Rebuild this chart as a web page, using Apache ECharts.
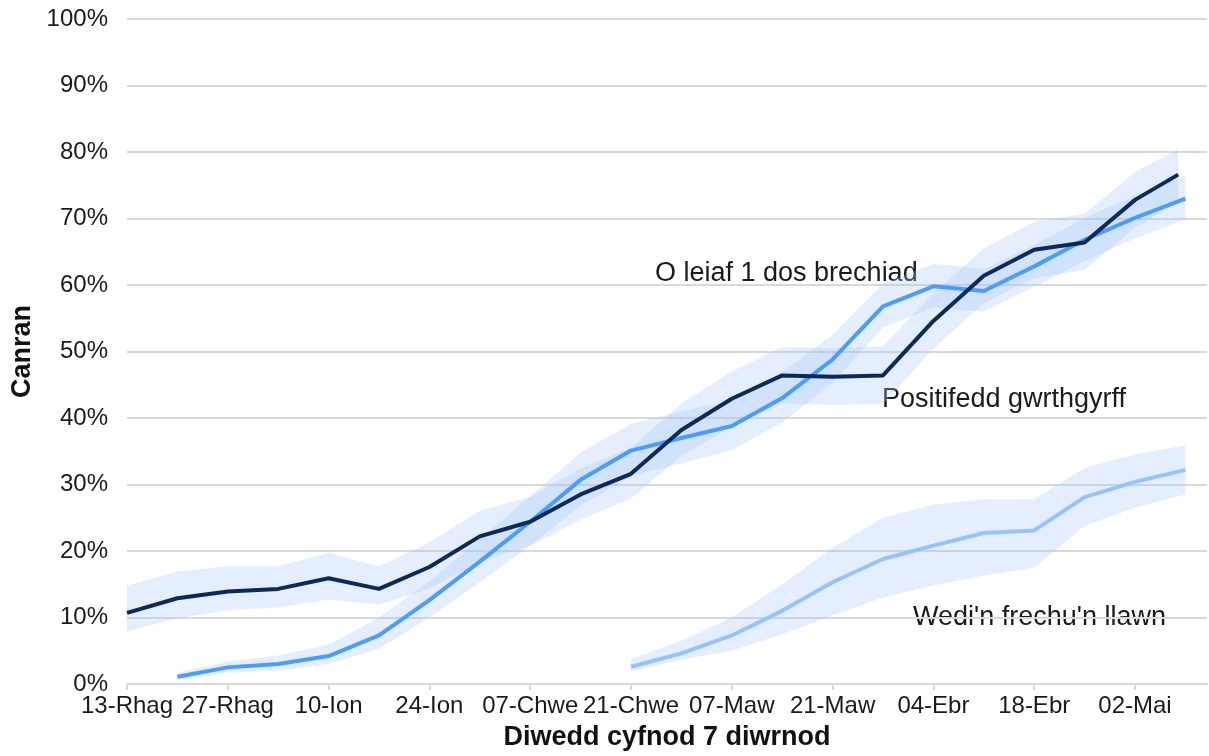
<!DOCTYPE html>
<html>
<head>
<meta charset="utf-8">
<script src="https://cdn.jsdelivr.net/npm/echarts@6/dist/echarts.min.js"></script>
<style>
html,body{margin:0;padding:0;background:#fff;}
#chart{width:1209px;height:756px;}
</style>
</head>
<body>
<div id="chart"></div>
<script>
// x positions are days since 13-Rhag
const tickDays = [0, 14, 28, 42, 56, 70, 84, 98, 112, 126, 140];
const tickLabels = ['13-Rhag', '27-Rhag', '10-Ion', '24-Ion', '07-Chwe', '21-Chwe', '07-Maw', '21-Maw', '04-Ebr', '18-Ebr', '02-Mai'];

// Positifedd gwrthgyrff (antibody positivity)
const antibodyDays  = [0, 7, 14, 21, 28, 35, 42, 49, 56, 63, 70, 77, 84, 91, 98, 105, 112, 119, 126, 133, 140, 146];
const antibodyVals  = [10.7, 12.9, 13.9, 14.3, 15.9, 14.3, 17.6, 22.2, 24.4, 28.5, 31.6, 38.2, 42.9, 46.4, 46.2, 46.4, 54.6, 61.4, 65.3, 66.4, 72.8, 76.6];
const antibodyLow   = [7.9, 9.9, 11.1, 11.5, 12.7, 11.9, 14.3, 18.5, 20.8, 24.7, 27.9, 34.3, 38.8, 42.2, 42.0, 42.1, 50.4, 57.3, 61.0, 62.3, 68.6, 72.5];
const antibodyHigh  = [14.8, 16.9, 17.7, 17.7, 19.7, 17.7, 21.3, 26.0, 28.2, 32.4, 35.5, 42.2, 47.0, 50.7, 50.5, 50.8, 58.8, 65.5, 69.5, 70.7, 77.0, 80.5];

// O leiaf 1 dos brechiad (at least one dose)
const firstDoseDays = [7, 14, 21, 28, 35, 42, 49, 56, 63, 70, 77, 84, 91, 98, 105, 112, 119, 126, 133, 140, 147];
const firstDoseVals = [1.1, 2.5, 3.0, 4.2, 7.3, 12.6, 18.4, 24.4, 30.7, 35.1, 37.0, 38.8, 43.0, 48.8, 56.8, 59.8, 59.1, 62.8, 66.8, 70.1, 73.0];
const firstDoseLow  = [0.6, 1.7, 2.0, 3.0, 5.3, 10.0, 15.3, 20.8, 26.8, 31.3, 33.2, 35.2, 39.3, 45.3, 53.6, 56.6, 56.0, 59.7, 63.6, 67.0, 69.9];
const firstDoseHigh = [1.7, 3.4, 4.3, 5.9, 10.0, 15.5, 21.8, 28.2, 34.8, 39.1, 41.0, 42.6, 46.9, 52.5, 60.2, 63.2, 62.4, 66.0, 70.1, 73.4, 76.5];

// Wedi'n frechu'n llawn (fully vaccinated)
const fullDays = [70, 77, 84, 91, 98, 105, 112, 119, 126, 133, 140, 147];
const fullVals = [2.6, 4.6, 7.3, 11.0, 15.3, 18.8, 20.8, 22.7, 23.1, 28.1, 30.4, 32.2];
const fullLow  = [1.9, 3.7, 5.0, 7.5, 10.3, 13.0, 14.8, 16.3, 17.5, 23.8, 26.5, 28.5];
const fullHigh = [3.8, 6.5, 10.0, 15.0, 20.5, 25.0, 27.0, 27.8, 27.8, 32.5, 34.5, 35.9];

const FONT = '"Liberation Sans", Arial, sans-serif';
const bandColor = 'rgba(165,198,252,0.3)';

function zip(xs, ys) { return xs.map((x, i) => [x, ys[i]]); }

function bandSeries(days, low, high) {
  const rows = days.map((d, i) => [d, low[i], high[i]]);
  return {
    type: 'custom',
    data: rows,
    encode: { x: 0, y: [1, 2] },
    z: 1,
    silent: true,
    renderItem: function (params, api) {
      if (params.dataIndex !== 0) return null;
      const top = rows.map(r => api.coord([r[0], r[2]]));
      const bot = rows.map(r => api.coord([r[0], r[1]])).reverse();
      return { type: 'polygon', shape: { points: top.concat(bot) }, style: { fill: bandColor } };
    }
  };
}

function lineSeries(name, days, vals, color) {
  return {
    name: name, type: 'line', data: zip(days, vals), symbol: 'none', z: 3,
    lineStyle: { color: color, width: 4 }, itemStyle: { color: color }
  };
}

const chart = echarts.init(document.getElementById('chart'), null, { renderer: 'canvas' });
chart.setOption({
  animation: false,
  backgroundColor: '#fff',
  grid: { left: 127, right: 2, top: 19, bottom: 72, containLabel: false },
  xAxis: {
    type: 'value', min: 0, max: 150, interval: 14,
    name: 'Diwedd cyfnod 7 diwrnod', nameLocation: 'middle', nameGap: 40,
    nameTextStyle: { fontFamily: FONT, fontSize: 27, fontWeight: 'bold', color: '#111' },
    axisLine: { show: true, lineStyle: { color: '#d9d9d9', width: 2 } },
    axisTick: { show: true, length: 6, customValues: tickDays, lineStyle: { color: '#d9d9d9', width: 2 } },
    axisLabel: {
      customValues: tickDays,
      formatter: function (v) { const i = tickDays.indexOf(v); return i >= 0 ? tickLabels[i] : ''; },
      fontFamily: FONT, fontSize: 24, color: '#1a1a1a', margin: 10, showMaxLabel: true, showMinLabel: true
    },
    splitLine: { show: false }
  },
  yAxis: {
    type: 'value', min: 0, max: 100, interval: 10,
    name: 'Canran', nameLocation: 'middle', nameGap: 88, nameRotate: 90,
    nameTextStyle: { fontFamily: FONT, fontSize: 27, fontWeight: 'bold', color: '#111' },
    axisLine: { show: false }, axisTick: { show: false },
    axisLabel: { formatter: '{value}%', fontFamily: FONT, fontSize: 24, color: '#1a1a1a', margin: 19 },
    splitLine: { show: true, lineStyle: { color: '#d9d9d9', width: 2 } }
  },
  graphic: [
    { type: 'text', x: 655, y: 274, style: { text: 'O leiaf 1 dos brechiad', font: '27px ' + FONT, fill: '#1a1a1a', verticalAlign: 'middle' } },
    { type: 'text', x: 882, y: 400, style: { text: 'Positifedd gwrthgyrff', font: '27px ' + FONT, fill: '#1a1a1a', verticalAlign: 'middle' } },
    { type: 'text', x: 913, y: 618, style: { text: "Wedi'n frechu'n llawn", font: '27px ' + FONT, fill: '#1a1a1a', verticalAlign: 'middle' } }
  ],
  series: [
    bandSeries(antibodyDays, antibodyLow, antibodyHigh),
    bandSeries(firstDoseDays, firstDoseLow, firstDoseHigh),
    bandSeries(fullDays, fullLow, fullHigh),
    lineSeries('Wedi\'n frechu\'n llawn', fullDays, fullVals, '#96c3ff'),
    lineSeries('O leiaf 1 dos brechiad', firstDoseDays, firstDoseVals, '#4a9dff'),
    lineSeries('Positifedd gwrthgyrff', antibodyDays, antibodyVals, '#0b2a5b')
  ]
});
</script>
</body>
</html>
